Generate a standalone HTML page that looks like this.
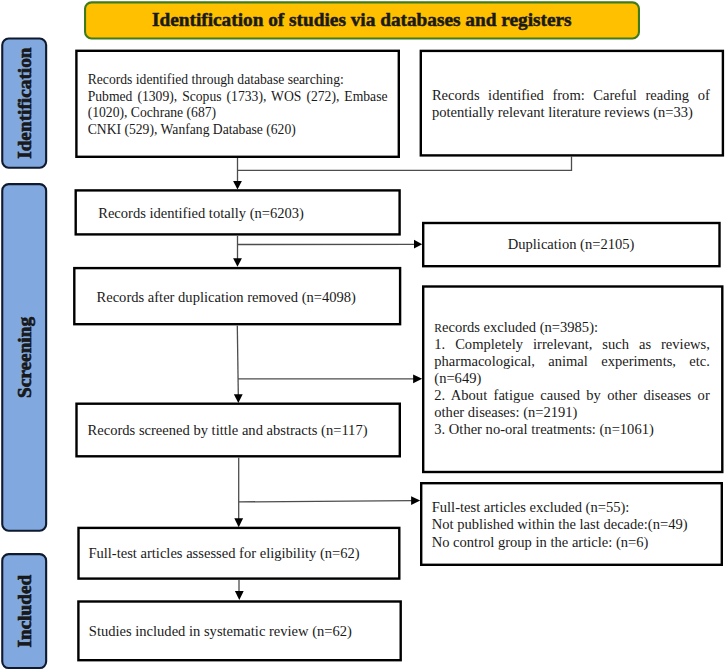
<!DOCTYPE html>
<html><head><meta charset="utf-8"><style>
html,body{margin:0;padding:0;background:#fff;width:725px;height:671px;overflow:hidden}
svg{display:block}
text{font-family:"Liberation Serif",serif;fill:#1a1a1a}
</style></head><body>
<svg width="725" height="671" viewBox="0 0 725 671">
<rect width="725" height="671" fill="#fff"/>
<rect x="85.05" y="2.35" width="553.90" height="36.10" rx="6.5" fill="#ffc000" stroke="#3f7a1c" stroke-width="2.1"/>
<text x="361.8" y="26.3" text-anchor="middle" font-weight="bold" font-size="19.3" stroke="#1a1a1a" stroke-width="0.5">Identification of studies via databases and registers</text>
<rect x="2.25" y="38.55" width="43.90" height="129.20" rx="6.5" fill="#82a9df" stroke="#0f1a2e" stroke-width="2.1"/>
<text transform="translate(31.3,103.15) rotate(-90)" x="0" y="0" text-anchor="middle" font-weight="bold" font-size="19.3" stroke="#111" stroke-width="0.6">Identification</text>
<rect x="2.25" y="184.15" width="43.90" height="346.60" rx="6.5" fill="#82a9df" stroke="#0f1a2e" stroke-width="2.1"/>
<text transform="translate(31.3,357.45) rotate(-90)" x="0" y="0" text-anchor="middle" font-weight="bold" font-size="19.3" stroke="#111" stroke-width="0.6">Screening</text>
<rect x="2.25" y="554.15" width="43.90" height="113.90" rx="6.5" fill="#82a9df" stroke="#0f1a2e" stroke-width="2.1"/>
<text transform="translate(31.3,611.10) rotate(-90)" x="0" y="0" text-anchor="middle" font-weight="bold" font-size="19.3" stroke="#111" stroke-width="0.6">Included</text>
<rect x="76.40" y="50.80" width="322.40" height="106.00" rx="0" fill="#fff" stroke="#000" stroke-width="2.4"/>
<rect x="420.80" y="50.90" width="302.10" height="104.50" rx="0" fill="#fff" stroke="#000" stroke-width="2.4"/>
<rect x="75.70" y="190.40" width="323.90" height="44.00" rx="0" fill="#fff" stroke="#000" stroke-width="2.4"/>
<rect x="423.20" y="223.00" width="296.30" height="43.20" rx="0" fill="#fff" stroke="#000" stroke-width="2.4"/>
<rect x="74.30" y="268.10" width="325.80" height="56.10" rx="0" fill="#fff" stroke="#000" stroke-width="2.4"/>
<rect x="423.20" y="286.50" width="299.10" height="185.50" rx="0" fill="#fff" stroke="#000" stroke-width="2.4"/>
<rect x="76.50" y="403.70" width="323.30" height="52.60" rx="0" fill="#fff" stroke="#000" stroke-width="2.4"/>
<rect x="421.20" y="483.20" width="300.60" height="81.60" rx="0" fill="#fff" stroke="#000" stroke-width="2.4"/>
<rect x="78.50" y="527.90" width="320.80" height="50.70" rx="0" fill="#fff" stroke="#000" stroke-width="2.4"/>
<rect x="78.40" y="601.50" width="322.30" height="58.70" rx="0" fill="#fff" stroke="#000" stroke-width="2.4"/>
<path d="M571.5,156 L571.5,170.4 L237.5,170.4" fill="none" stroke="#4d4d4d" stroke-width="1.3"/>
<path d="M237.5,158 L237.5,182" fill="none" stroke="#4d4d4d" stroke-width="1.3"/>
<polygon points="233.1,181 241.9,181 237.5,189.5" fill="#000"/>
<path d="M237.5,235.6 L237.5,259" fill="none" stroke="#4d4d4d" stroke-width="1.3"/>
<polygon points="233.1,258.3 241.9,258.3 237.5,266.7" fill="#000"/>
<path d="M237.5,244.5 L415,244.3" fill="none" stroke="#4d4d4d" stroke-width="1.3"/>
<polygon points="414,239.79999999999998 414,248.6 422.2,244.2" fill="#000"/>
<path d="M237.3,325.4 L238.3,395" fill="none" stroke="#4d4d4d" stroke-width="1.3"/>
<polygon points="233.9,394.3 242.70000000000002,394.3 238.3,403" fill="#000"/>
<path d="M238,378.8 L414,378.8" fill="none" stroke="#4d4d4d" stroke-width="1.3"/>
<polygon points="413.1,374.40000000000003 413.1,383.2 422.2,378.8" fill="#000"/>
<path d="M238.7,457.5 L238.7,519" fill="none" stroke="#4d4d4d" stroke-width="1.3"/>
<polygon points="234.29999999999998,518.2 243.1,518.2 238.7,527.2" fill="#000"/>
<path d="M238.7,501.9 L412,500.6" fill="none" stroke="#4d4d4d" stroke-width="1.3"/>
<polygon points="411.1,496.20000000000005 411.1,505.0 420.2,500.6" fill="#000"/>
<path d="M239,580 L239,592" fill="none" stroke="#4d4d4d" stroke-width="1.3"/>
<polygon points="234.9,591.1 243.70000000000002,591.1 239.3,600" fill="#000"/>
<text x="87.7" y="84.1" font-size="13.65" xml:space="preserve">Records identified through database searching:</text>
<text x="87.7" y="100.67" font-size="13.65" style="word-spacing:1.58px" xml:space="preserve">Pubmed (1309), Scopus (1733), WOS (272), Embase</text>
<text x="87.7" y="117.24" font-size="13.65" xml:space="preserve">(1020), Cochrane (687)</text>
<text x="87.7" y="133.8" font-size="13.65" xml:space="preserve">CNKI (529), Wanfang Database (620)</text>
<text x="431.9" y="99.7" font-size="14.55" style="word-spacing:4.92px" xml:space="preserve">Records identified from: Careful reading of</text>
<text x="431.9" y="116.9" font-size="14.55" xml:space="preserve">potentially relevant literature reviews (n=33)</text>
<text x="98.2" y="217.7" font-size="14.55" xml:space="preserve">Records identified totally (n=6203)</text>
<text x="571.05" y="249.3" font-size="14.55" text-anchor="middle" xml:space="preserve">Duplication (n=2105)</text>
<text x="96.5" y="301.65" font-size="14.55" xml:space="preserve">Records after duplication removed (n=4098)</text>
<text x="434.3" y="331.8" font-size="14.55" xml:space="preserve"><tspan font-size="11.5">R</tspan>ecords excluded (n=3985):</text>
<text x="434.3" y="348.9" font-size="14.55" style="word-spacing:6.32px" xml:space="preserve">1. Completely irrelevant, such as reviews,</text>
<text x="434.3" y="366.0" font-size="14.55" style="word-spacing:9.76px" xml:space="preserve">pharmacological, animal experiments, etc.</text>
<text x="434.3" y="383.1" font-size="14.55" xml:space="preserve">(n=649)</text>
<text x="434.3" y="400.2" font-size="14.55" style="word-spacing:2.76px" xml:space="preserve">2. About fatigue caused by other diseases or</text>
<text x="434.3" y="417.3" font-size="14.55" xml:space="preserve">other diseases: (n=2191)</text>
<text x="434.3" y="434.4" font-size="14.55" xml:space="preserve">3. Other no-oral treatments: (n=1061)</text>
<text x="87.6" y="434.8" font-size="14.55" xml:space="preserve">Records screened by tittle and abstracts (n=117)</text>
<text x="431.7" y="512" font-size="14.55" xml:space="preserve">Full-test articles excluded (n=55):</text>
<text x="431.7" y="529.3" font-size="14.55" xml:space="preserve">Not published within the last decade:(n=49)</text>
<text x="431.7" y="546.6" font-size="14.55" xml:space="preserve">No control group in the article: (n=6)</text>
<text x="88.4" y="558" font-size="14.55" xml:space="preserve">Full-test articles assessed for eligibility (n=62)</text>
<text x="88.8" y="635.65" font-size="14.55" xml:space="preserve">Studies included in systematic review (n=62)</text>
</svg>
</body></html>
